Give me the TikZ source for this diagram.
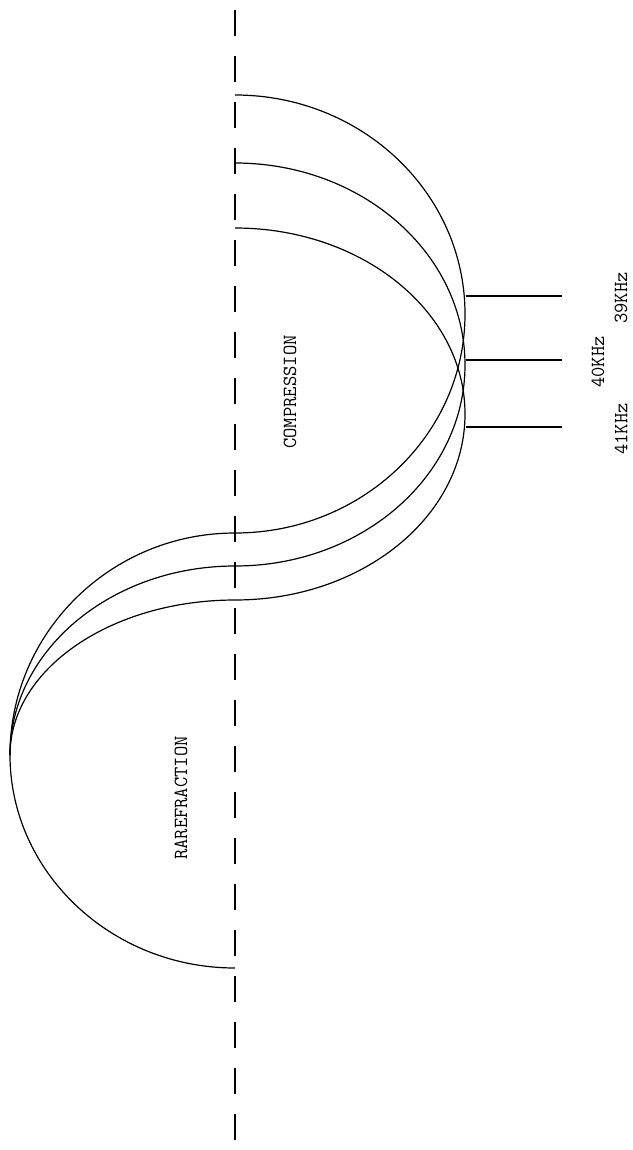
\documentclass[tikz,border=0pt]{standalone}
\usepackage{tikz}
\usetikzlibrary{calc}
\begin{document}
\begin{tikzpicture}[x=1pt,y=-1pt,
  wave/.style={line width=1.2pt},
  axisline/.style={line width=2.4pt,dash pattern=on 26pt off 20pt},
  lbl/.style={rotate=90,font=\fontsize{20}{24}\selectfont\ttfamily}]
\useasboundingbox (0,0) rectangle (632,1150);
\draw[axisline] (235,10)--(235,1150);
% one curve per frequency, joined at the rarefaction peak
\foreach \ya/\yp/\yc/\hz/\yl/\xl in {95/314/533/39/296/621,163/365/566/40/360/598,228/414/600/41/427/621}{
  \pgfmathsetmacro{\ua}{\yp-0.552*(\yp-\ya)}\pgfmathsetmacro{\ub}{\yp+0.552*(\yc-\yp)}
  \pgfmathsetmacro{\uc}{755-0.552*(755-\yc)}
  \draw[wave] (235,\ya) .. controls (362,\ya) and (465,\ua) .. (465,\yp)
    .. controls (465,\ub) and (362,\yc) .. (235,\yc)
    .. controls (111,\yc) and (10,\uc) .. (10,755);
  \draw[wave] (466,\yl)--(562,\yl);
  \node[lbl] (f\hz) at (\xl,\yl+2){\hz KHz};
}
\draw[wave] (10,755) .. controls (10,872) and (111,968) .. (235,968);
\node[lbl] (comp) at (290,392){COMPRESSION};
\node[lbl] (rare) at (181,798){RAREFRACTION};
\end{tikzpicture}
\end{document}
